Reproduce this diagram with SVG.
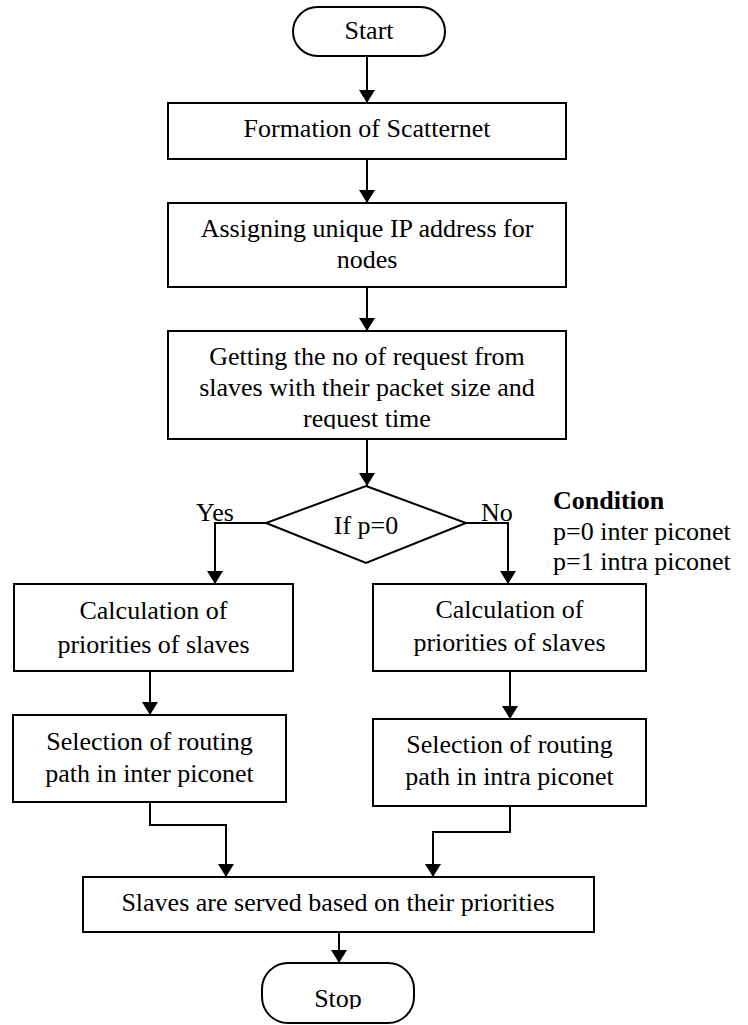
<svg xmlns="http://www.w3.org/2000/svg" width="748" height="1025" viewBox="0 0 748 1025" font-family="'Liberation Serif', 'Times New Roman', Times, 'DejaVu Serif', serif">
<style>
.shape{fill:#fff;stroke:#000;stroke-width:2}
.t{font-family:'Liberation Serif', 'Times New Roman', Times, 'DejaVu Serif', serif;font-size:26px;fill:#000}
.c{text-anchor:middle}
.b{font-weight:bold}
.conn{fill:none;stroke:#000;stroke-width:2}
</style>
<defs>
<marker id="arr" markerUnits="userSpaceOnUse" markerWidth="14" markerHeight="16" refX="13" refY="8" orient="auto">
<path d="M0,0 L13,8 L0,16 z" fill="#000"/>
</marker>
<clipPath id="clipReq"><rect x="160" y="330" width="420" height="99"/></clipPath>
<clipPath id="clipStop"><rect x="250" y="960" width="180" height="49"/></clipPath>
</defs>
<rect width="748" height="1025" fill="#fff"/>
<g id="connectors">
<line class="conn" x1="367" y1="56" x2="367" y2="103" marker-end="url(#arr)"/>
<line class="conn" x1="367" y1="159" x2="367" y2="203" marker-end="url(#arr)"/>
<line class="conn" x1="367" y1="287" x2="367" y2="331" marker-end="url(#arr)"/>
<line class="conn" x1="367" y1="439" x2="367" y2="486" marker-end="url(#arr)"/>
<polyline class="conn" points="266,523 215,523 215,584" marker-end="url(#arr)"/>
<polyline class="conn" points="466,523 508,523 508,584" marker-end="url(#arr)"/>
<line class="conn" x1="150" y1="671" x2="150" y2="715" marker-end="url(#arr)"/>
<line class="conn" x1="510" y1="671" x2="510" y2="719" marker-end="url(#arr)"/>
<polyline class="conn" points="150,802 150,825 226,825 226,877" marker-end="url(#arr)"/>
<polyline class="conn" points="510,806 510,832 433,832 433,877" marker-end="url(#arr)"/>
<line class="conn" x1="339" y1="932" x2="339" y2="963" marker-end="url(#arr)"/>
</g>
<g id="start">
<rect class="shape" x="293" y="7" width="152" height="49" rx="24.5"/>
<text class="t c" x="369" y="39">Start</text>
</g>
<g id="formation">
<rect class="shape" x="168" y="103" width="398" height="56"/>
<text class="t c" x="367" y="137">Formation of Scatternet</text>
</g>
<g id="assigning">
<rect class="shape" x="168" y="203" width="398" height="84"/>
<text class="t c" x="367" y="237">Assigning unique IP address for</text>
<text class="t c" x="367" y="268">nodes</text>
</g>
<g id="getting">
<rect class="shape" x="168" y="331" width="398" height="108"/>
<text class="t c" x="367" y="365">Getting the no of request from</text>
<text class="t c" x="367" y="396">slaves with their packet size and</text>
<text class="t c" x="367" y="427" clip-path="url(#clipReq)">request time</text>
</g>
<g id="decision">
<polygon class="shape" points="366,486 466,523 366,563 266,523"/>
<text class="t c" x="366" y="534">If p=0</text>
</g>
<g id="labels">
<text class="t" x="196" y="521">Yes</text>
<text class="t" x="481" y="521">No</text>
</g>
<g id="condition">
<text class="t b" x="553" y="509">Condition</text>
<text class="t" x="553" y="540">p=0 inter piconet</text>
<text class="t" x="553" y="570">p=1 intra piconet</text>
</g>
<g id="calc-left">
<rect class="shape" x="14" y="584" width="279" height="87"/>
<text class="t c" x="153.5" y="619">Calculation of</text>
<text class="t c" x="153.5" y="653">priorities of slaves</text>
</g>
<g id="calc-right">
<rect class="shape" x="373" y="584" width="273" height="87"/>
<text class="t c" x="509.5" y="618">Calculation of</text>
<text class="t c" x="509.5" y="651">priorities of slaves</text>
</g>
<g id="select-left">
<rect class="shape" x="13" y="715" width="273" height="87"/>
<text class="t c" x="149.5" y="750">Selection of routing</text>
<text class="t c" x="149.5" y="782">path in inter piconet</text>
</g>
<g id="select-right">
<rect class="shape" x="373" y="719" width="273" height="87"/>
<text class="t c" x="509.5" y="753">Selection of routing</text>
<text class="t c" x="509.5" y="785">path in intra piconet</text>
</g>
<g id="served">
<rect class="shape" x="83" y="877" width="511" height="55"/>
<text class="t c" x="338" y="911">Slaves are served based on their priorities</text>
</g>
<g id="stop">
<rect class="shape" x="262" y="963" width="152" height="60" rx="26"/>
<text class="t c" x="338" y="1007" clip-path="url(#clipStop)">Stop</text>
</g>
</svg>
